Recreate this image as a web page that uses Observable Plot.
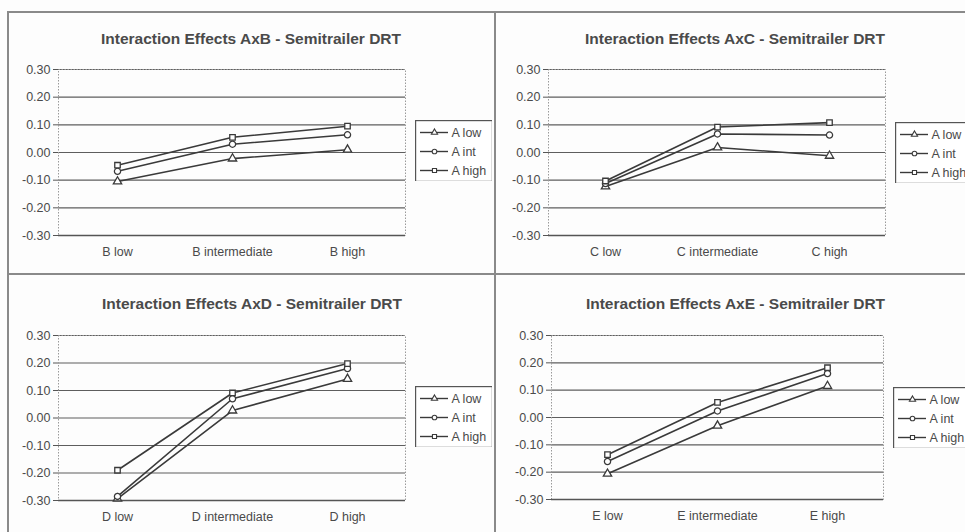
<!DOCTYPE html>
<html>
<head>
<meta charset="utf-8">
<script src="https://cdn.jsdelivr.net/npm/d3@7"></script>
<script src="https://cdn.jsdelivr.net/npm/@observablehq/plot@0.6"></script>
<style>
  body { margin: 0; background: #ffffff; }
  #page { position: relative; width: 965px; height: 532px; overflow: hidden; background: #fdfdfd;
          font-family: "Liberation Sans", Arial, sans-serif; }
  .hline { position: absolute; height: 2px; background: #8a8a8a; }
  .vline { position: absolute; width: 2px; background: #8a8a8a; }
</style>
</head>
<body>
<div id="page">
  <div class="hline" style="left:8px; top:11px; width:957px;"></div>
  <div class="vline" style="left:7px; top:11px; height:521px;"></div>
  <div class="vline" style="left:494px; top:11px; height:521px;"></div>
  <div class="hline" style="left:8px; top:273px; width:957px;"></div>
</div>
<script>
// ---------- data ----------
const seriesNames = ["A low", "A int", "A high"];
const yTicks = [-0.3, -0.2, -0.1, 0, 0.1, 0.2, 0.3];

const titleAB = "Interaction Effects AxB - Semitrailer DRT";
const catsB = ["B low", "B intermediate", "B high"];
const abLow  = [-0.105, -0.022, 0.010];
const abInt  = [-0.068,  0.030, 0.064];
const abHigh = [-0.046,  0.055, 0.095];

const titleAC = "Interaction Effects AxC - Semitrailer DRT";
const catsC = ["C low", "C intermediate", "C high"];
const acLow  = [-0.123, 0.018, -0.012];
const acInt  = [-0.112, 0.067,  0.063];
const acHigh = [-0.103, 0.092,  0.108];

const titleAD = "Interaction Effects AxD - Semitrailer DRT";
const catsD = ["D low", "D intermediate", "D high"];
const adLow  = [-0.293, 0.027, 0.142];
const adInt  = [-0.285, 0.070, 0.180];
const adHigh = [-0.190, 0.091, 0.198];

const titleAE = "Interaction Effects AxE - Semitrailer DRT";
const catsE = ["E low", "E intermediate", "E high"];
const aeLow  = [-0.206, -0.030, 0.115];
const aeInt  = [-0.161,  0.024, 0.161];
const aeHigh = [-0.136,  0.055, 0.182];

// ---------- drawing ----------
const FONT = "'Liberation Sans', Arial, Helvetica, sans-serif";
const INK = "#3a3a3a";
const TXT = "#4a4a4a";
const symbolScale = { domain: seriesNames, range: ["triangle", "circle", "square"] };
const page = document.getElementById("page");

function place(el, left, top) {
  el.style.position = "absolute";
  el.style.left = left + "px";
  el.style.top = top + "px";
  page.appendChild(el);
}

function panel(cfg) {
  const data = [];
  cfg.series.forEach((vals, si) =>
    vals.forEach((v, i) => data.push({ series: seriesNames[si], cat: cfg.cats[i], v })));
  const chart = Plot.plot({
    width: cfg.width, height: cfg.height,
    marginLeft: cfg.mL, marginRight: cfg.mR, marginTop: cfg.mT, marginBottom: cfg.mB,
    style: { background: "transparent", fontFamily: FONT, color: TXT, overflow: "visible" },
    x: { type: "point", domain: cfg.cats, padding: 0.5, label: null },
    y: { domain: [-0.3, 0.3], label: null },
    symbol: symbolScale,
    marks: [
      Plot.ruleY(yTicks, { stroke: "#5e5e5e", strokeWidth: 1.1 }),
      Plot.frame({ stroke: "#9a9a9a", strokeDasharray: "1.5,1.5" }),
      Plot.ruleY([-0.3], { stroke: "#555", strokeWidth: 1.5 }),
      Plot.axisY({ ticks: yTicks, tickFormat: d => d.toFixed(2), tickSize: 5, tickPadding: 3,
                   line: true, label: null, stroke: "#555", fill: TXT, fontSize: 12.5 }),
      Plot.axisX({ tickSize: 0, tickPadding: 12, label: null, fill: TXT, fontSize: 12.5 }),
      Plot.line(data, { x: "cat", y: "v", z: "series", stroke: INK, strokeWidth: 1.6 }),
      Plot.dot(data, { x: "cat", y: "v", symbol: "series", r: 3.1, stroke: INK, fill: "white", strokeWidth: 1.3 }),
      Plot.text([cfg.title], { frameAnchor: "top", dx: cfg.tdx, dy: cfg.tdy, fontWeight: "bold",
                               fontSize: 15.5, fill: TXT })
    ]
  });
  place(chart, cfg.left, cfg.top);

  const lw = 77, lh = 61;
  const legend = Plot.plot({
    width: lw, height: lh, margin: 0,
    style: { background: "white", fontFamily: FONT, color: TXT },
    x: { domain: [0, lw], axis: null },
    y: { type: "point", domain: seriesNames, range: [12, 50], padding: 0, axis: null },
    symbol: symbolScale,
    marks: [
      Plot.frame({ stroke: "#555", strokeWidth: 1.4 }),
      Plot.ruleY(seriesNames, { y: d => d, x1: 5, x2: 33, stroke: INK, strokeWidth: 1.4 }),
      Plot.dot(seriesNames, { y: d => d, x: 19, symbol: d => d, r: 2.3, stroke: INK, fill: "white", strokeWidth: 1.1 }),
      Plot.text(seriesNames, { y: d => d, x: 36, text: d => d, textAnchor: "start", fontSize: 12.5, fill: TXT })
    ]
  });
  place(legend, cfg.lx, cfg.ly);
}

panel({ title: titleAB, cats: catsB, series: [abLow, abInt, abHigh],
        left: 8, top: 12, width: 487, height: 262, mL: 50, mR: 90, mT: 57, mB: 39,
        tdx: 19, tdy: -37, lx: 415, ly: 120 });
panel({ title: titleAC, cats: catsC, series: [acLow, acInt, acHigh],
        left: 495, top: 12, width: 470, height: 262, mL: 53, mR: 80, mT: 57, mB: 39,
        tdx: 18, tdy: -37, lx: 895, ly: 122 });
panel({ title: titleAD, cats: catsD, series: [adLow, adInt, adHigh],
        left: 8, top: 274, width: 487, height: 258, mL: 50, mR: 90, mT: 61, mB: 32,
        tdx: 20, tdy: -38, lx: 415, ly: 386 });
panel({ title: titleAE, cats: catsE, series: [aeLow, aeInt, aeHigh],
        left: 495, top: 274, width: 470, height: 258, mL: 56, mR: 82, mT: 61, mB: 33,
        tdx: 18, tdy: -38, lx: 893, ly: 387 });
</script>
</body>
</html>
